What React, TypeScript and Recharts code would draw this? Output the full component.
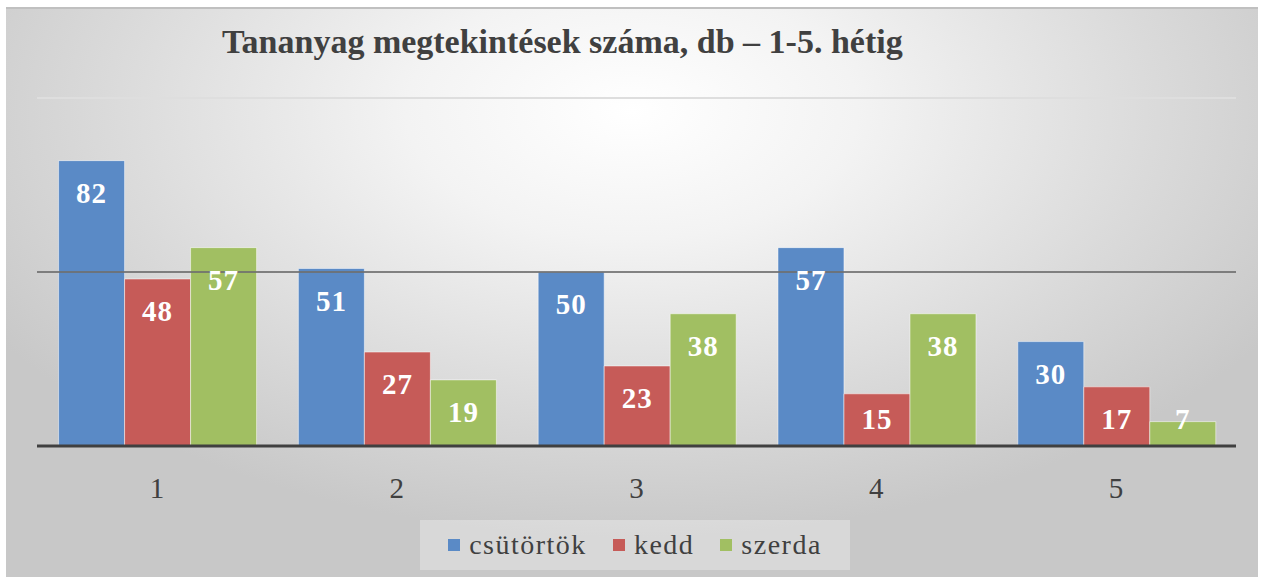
import { BarChart, Bar, XAxis, YAxis, ReferenceLine } from 'recharts'

const weeks = ['1', '2', '3', '4', '5']
const csutortok = [82, 51, 50, 57, 30]
const kedd = [48, 27, 23, 15, 17]
const szerda = [57, 19, 38, 38, 7]

const seriesNames = ['csütörtök', 'kedd', 'szerda']
const seriesColors = ['#5a8ac6', '#c65b58', '#a1bf62']

const data = weeks.map((w, i) => ({
  week: w,
  csutortok: csutortok[i],
  kedd: kedd[i],
  szerda: szerda[i],
}))

const serif = 'Liberation Serif'

function ValueLabel(props: any) {
  const { x, y, width, height, value } = props
  const cy = Math.min(y + 32, y + height - 27)
  return (
    <text
      x={x + width / 2}
      y={cy}
      textAnchor="middle"
      dominantBaseline="central"
      fill="#ffffff"
      fontFamily={serif}
      fontWeight="bold"
      fontSize={29}
      letterSpacing={1}
    >
      {value}
    </text>
  )
}

function WeekTick(props: any) {
  const { x, y, payload } = props
  return (
    <text x={x} y={y + 40} textAnchor="middle" dominantBaseline="central" fill="#404040" fontFamily={serif} fontSize={29}>
      {payload.value}
    </text>
  )
}

function LegendBox() {
  return (
    <div
      style={{
        position: 'absolute',
        left: 414,
        top: 511,
        width: 430,
        height: 50,
        background: 'rgba(255,255,255,0.3)',
        display: 'flex',
        alignItems: 'center',
        justifyContent: 'center',
        gap: 26,
        fontFamily: serif,
      }}
    >
      {seriesNames.map((n, i) => (
        <span key={n} style={{ display: 'flex', alignItems: 'center', gap: 9 }}>
          <span style={{ width: 12, height: 12, background: seriesColors[i], display: 'inline-block' }} />
          <span style={{ fontFamily: serif, fontSize: 28, letterSpacing: 1.5, color: '#404040', lineHeight: '50px' }}>{n}</span>
        </span>
      ))}
    </div>
  )
}

export default function App() {
  return (
    <div style={{ position: 'absolute', left: 0, top: 0, width: 1264, height: 577, background: '#ffffff', overflow: 'hidden' }}>
      <div
        style={{
          position: 'absolute',
          left: 6,
          top: 7,
          width: 1252,
          height: 570,
          background: 'radial-gradient(ellipse 60% 75% at 50% 18%, #ffffff 0%, #f3f3f3 30%, #dadada 70%, #c8c8c8 100%)',
          borderTop: '2px solid #c0c0c0',
          boxSizing: 'border-box',
        }}
      >
        <div
          style={{
            position: 'absolute',
            left: 216,
            top: 14,
            fontFamily: serif,
            fontWeight: 'bold',
            fontSize: 34,
            color: '#404040',
            whiteSpace: 'nowrap',
          }}
        >
          Tananyag megtekintések száma, db – 1-5. hétig
        </div>
        <BarChart
          width={1252}
          height={568}
          data={data}
          margin={{ top: 89, right: 22, left: 31, bottom: 59 }}
          barCategoryGap="9%"
          barGap={0}
        >
          <ReferenceLine y={100} stroke="#dedede" strokeWidth={2} />
          <XAxis
            dataKey="week"
            height={72}
            tickLine={false}
            tickSize={0}
            tick={<WeekTick />}
            axisLine={{ stroke: '#404040', strokeWidth: 3 }}
          />
          <YAxis hide domain={[0, 100]} />
          <Bar dataKey="csutortok" name={seriesNames[0]} fill={seriesColors[0]} stroke="#ffffff" strokeOpacity={0.5} isAnimationActive={false} label={<ValueLabel />} />
          <Bar dataKey="kedd" name={seriesNames[1]} fill={seriesColors[1]} stroke="#ffffff" strokeOpacity={0.5} isAnimationActive={false} label={<ValueLabel />} />
          <Bar dataKey="szerda" name={seriesNames[2]} fill={seriesColors[2]} stroke="#ffffff" strokeOpacity={0.5} isAnimationActive={false} label={<ValueLabel />} />
          <ReferenceLine y={50} stroke="#6f6f6f" strokeOpacity={0.85} strokeWidth={2} />
        </BarChart>
        <LegendBox />
      </div>
    </div>
  )
}
